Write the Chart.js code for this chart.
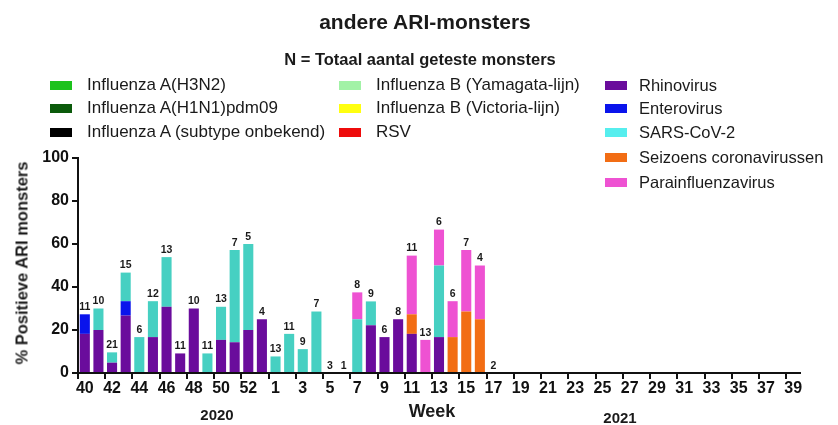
<!DOCTYPE html>
<html>
<head>
<meta charset="utf-8">
<script src="https://cdn.jsdelivr.net/npm/chart.js@4.4.1/dist/chart.umd.min.js"></script>
<style>
  body { margin: 0; background: #fff; }
  #wrap { position: relative; width: 838px; height: 425px; font-family: "Liberation Sans", Arial, sans-serif; color: #1a1a1a; }
  #chart { position: absolute; left: 0; top: 0; }
  .t { position: absolute; white-space: nowrap; }
  .title { font-weight: bold; font-size: 21px; left: 0; width: 850px; text-align: center; top: 10px; }
  .sub { font-weight: bold; font-size: 16.5px; left: 0; width: 840px; text-align: center; top: 50px; }
  .lg { position: absolute; white-space: nowrap; line-height: 18px; }
  .lg i { position: absolute; width: 22px; height: 9px; top: 5px; }
  .ytitle { font-weight: bold; font-size: 16.5px; left: 22px; top: 263px; transform: translate(-50%, -50%) rotate(-90deg); }
  .xl { font-weight: bold; font-size: 15px; transform: translate(-50%, -50%); }
</style>
</head>
<body>
<div id="wrap">
  <canvas id="chart" width="838" height="425"></canvas>
  <div class="t title">andere ARI-monsters</div>
  <div class="t sub">N = Totaal aantal geteste monsters</div>
  <div id="legend"></div>
  <div class="t ytitle">% Positieve ARI monsters</div>
  <div class="t xl" style="left:217px; top:414px;">2020</div>
  <div class="t xl" style="left:432px; top:411px; font-size:18px;">Week</div>
  <div class="t xl" style="left:620px; top:417px;">2021</div>
</div>
<script>
// weeks 40-53 of 2020, then 1-39 of 2021
const weeks = ["40","41","42","43","44","45","46","47","48","49","50","51","52","53",
  "1","2","3","4","5","6","7","8","9","10","11","12","13","14","15","16","17","18","19","20",
  "21","22","23","24","25","26","27","28","29","30","31","32","33","34","35","36","37","38","39"];

// % positive per week (only weeks up to 17 of 2021 have data)
const rhinovirus = [18.2, 20, 4.8, 26.7, 0, 16.7, 30.8, 9.1, 30, 0, 15.4, 14.3, 20, 25,
  0, 0, 0, 0, 0, 0, 0, 22.2, 16.7, 25, 18.2, 0, 16.7, 0, 0, 0, 0];
const enterovirus = [9.1, 0, 0, 6.7, 0, 0, 0, 0, 0, 0, 0, 0, 0, 0,
  0, 0, 0, 0, 0, 0, 0, 0, 0, 0, 0, 0, 0, 0, 0, 0, 0];
const seizoensCorona = [0, 0, 0, 0, 0, 0, 0, 0, 0, 0, 0, 0, 0, 0,
  0, 0, 0, 0, 0, 0, 0, 0, 0, 0, 9.1, 0, 0, 16.7, 28.6, 25, 0];
const sarsCov2 = [0, 10, 4.8, 13.3, 16.7, 16.7, 23.1, 0, 0, 9.1, 15.4, 42.9, 40, 0,
  7.7, 18.2, 11.1, 28.6, 0, 0, 25, 11.1, 0, 0, 0, 0, 33.3, 0, 0, 0, 0];
const parainfluenza = [0, 0, 0, 0, 0, 0, 0, 0, 0, 0, 0, 0, 0, 0,
  0, 0, 0, 0, 0, 0, 12.5, 0, 0, 0, 27.3, 15.4, 16.7, 16.7, 28.6, 25, 0];

// total number of tested samples per week
const nTested = [11, 10, 21, 15, 6, 12, 13, 11, 10, 11, 13, 7, 5, 4,
  13, 11, 9, 7, 3, 1, 8, 9, 6, 8, 11, 13, 6, 6, 7, 4, 2];

// text, colour, x, y, font size
const legendItems = [
  ["Influenza A(H3N2)", "#1cc21c", 50, 85, 17],
  ["Influenza A(H1N1)pdm09", "#0b5a0b", 50, 108, 17],
  ["Influenza A (subtype onbekend)", "#000000", 50, 132, 17],
  ["Influenza B (Yamagata-lijn)", "#a2f2a6", 339, 85, 17],
  ["Influenza B (Victoria-lijn)", "#ffff10", 339, 108, 17],
  ["RSV", "#ee0b0b", 339, 132, 17],
  ["Rhinovirus", "#6a0c9c", 605, 85, 16.5],
  ["Enterovirus", "#0a14ec", 605, 108, 16.5],
  ["SARS-CoV-2", "#56eeee", 605, 132, 16.5],
  ["Seizoens coronavirussen", "#f26d14", 605, 157, 16.5],
  ["Parainfluenzavirus", "#ee52d2", 605, 182, 16.5]
];
document.getElementById("legend").innerHTML = legendItems.map(([txt, col, x, y, fs]) =>
  `<div class="lg" style="left:${x}px; top:${y - 9}px; font-size:${fs}px; padding-left:${x === 605 ? 34 : 37}px;">` +
  `<i style="left:0; background:${col};"></i>${txt}</div>`).join("");

const nLabels = {
  id: 'nLabels',
  afterDatasetsDraw(chart) {
    const ctx = chart.ctx;
    const meta = chart.getDatasetMeta(0);
    const y = chart.scales.y;
    ctx.save();
    ctx.font = "bold 10.5px 'Liberation Sans', Arial, sans-serif";
    ctx.fillStyle = "#1a1a1a";
    ctx.textAlign = "center";
    ctx.textBaseline = "bottom";
    nTested.forEach((n, i) => {
      let sum = 0;
      chart.data.datasets.forEach(ds => { sum += ds.data[i] || 0; });
      ctx.fillText(String(n), meta.data[i].x, y.getPixelForValue(sum) - 2);
    });
    ctx.restore();
  }
};

const tickFont = { family: "'Liberation Sans', Arial, sans-serif", size: 16, weight: 'bold' };

new Chart(document.getElementById("chart"), {
  type: 'bar',
  data: {
    labels: weeks,
    datasets: [
      { label: 'Rhinovirus', data: rhinovirus, backgroundColor: '#6a0c9c' },
      { label: 'Enterovirus', data: enterovirus, backgroundColor: '#0a14ec' },
      { label: 'Seizoens coronavirussen', data: seizoensCorona, backgroundColor: '#f26d14' },
      { label: 'SARS-CoV-2', data: sarsCov2, backgroundColor: '#46d0c2' },
      { label: 'Parainfluenzavirus', data: parainfluenza, backgroundColor: '#ee52d2' }
    ]
  },
  options: {
    responsive: false,
    animation: false,
    layout: { padding: { top: 158, right: 38, left: 0, bottom: 0 } },
    datasets: { bar: { barPercentage: 0.74, categoryPercentage: 1 } },
    plugins: { legend: { display: false }, tooltip: { enabled: false } },
    scales: {
      x: {
        stacked: true,
        afterFit: s => { s.height = 52; },
        border: { display: true, color: '#111', width: 2 },
        grid: {
          drawOnChartArea: false, tickLength: 6, lineWidth: 2,
          color: c => c.index % 2 === 0 ? '#111' : 'rgba(0,0,0,0)'
        },
        ticks: {
          autoSkip: false, maxRotation: 0, padding: 0, color: '#111', font: tickFont,
          callback: function (v, i) { return i % 2 === 0 ? this.getLabelForValue(v) : ''; }
        }
      },
      y: {
        stacked: true,
        min: 0, max: 100,
        afterFit: s => { s.width = 78; },
        border: { display: true, color: '#111', width: 2 },
        grid: { drawOnChartArea: false, tickLength: 6, lineWidth: 2, color: '#111' },
        ticks: { stepSize: 20, padding: 3, color: '#111', font: tickFont }
      }
    }
  },
  plugins: [nLabels]
});
</script>
</body>
</html>
